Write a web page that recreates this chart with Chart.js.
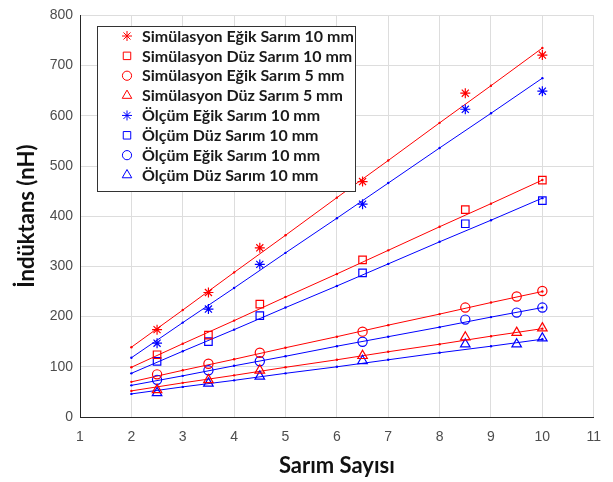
<!DOCTYPE html>
<html>
<head>
<meta charset="utf-8">
<script src="https://cdn.jsdelivr.net/npm/chart.js"></script>
<style>
body { margin: 0; background: #fff; }
</style>
</head>
<body>
<canvas id="c" width="613" height="482"></canvas>
<script>
// x positions
const lineX = [2, 3, 4, 5, 6, 7, 8, 9, 10]
const ptX10 = [2.5, 3.5, 4.5, 6.5, 8.5, 10]
const ptX5 = [2.5, 3.5, 4.5, 6.5, 8.5, 9.5, 10]

// simulation points (red)
const simEgik10 = [174, 248, 337, 469, 645, 721]
const simDuz10 = [124, 163, 225, 313, 413, 472]
const simEgik5 = [85, 106, 128, 170, 218, 240, 251]
const simDuz5 = [54, 74, 93, 122, 159, 168, 177]

// measurement points (blue)
const olcEgik10 = [147, 215, 304, 424, 613, 649]
const olcDuz10 = [111, 150, 202, 287, 385, 431]
const olcEgik5 = [74, 93, 111, 150, 194, 208, 218]
const olcDuz5 = [48, 67, 81, 112, 145, 145, 157]

// fitted lines read at x = 2..10
const lineSimEgik10 = [139, 213, 288, 362, 437, 511, 586, 660, 735]
const lineOlcEgik10 = [118, 188, 257, 327, 396, 466, 536, 605, 675]
const lineSimDuz10 = [99, 146, 192, 239, 285, 332, 379, 425, 472]
const lineOlcDuz10 = [87, 131, 174, 218, 261, 305, 349, 392, 436]
const lineSimEgik5 = [70, 93, 115, 138, 160, 183, 205, 228, 250]
const lineOlcEgik5 = [63, 82, 102, 121, 141, 160, 179, 199, 218]
const lineSimDuz5 = [52, 68, 83, 99, 114, 130, 145, 161, 176]
const lineOlcDuz5 = [46, 60, 73, 87, 100, 114, 128, 141, 155]

const legendLabels = [
    'Simülasyon Eğik Sarım 10 mm',
    'Simülasyon Düz Sarım 10 mm',
    'Simülasyon Eğik Sarım 5 mm',
    'Simülasyon Düz Sarım 5 mm',
    'Ölçüm Eğik Sarım 10 mm',
    'Ölçüm Düz Sarım 10 mm',
    'Ölçüm Eğik Sarım 10 mm',
    'Ölçüm Düz Sarım 10 mm'
]

const RED = '#ff0000'
const BLUE = '#0000ff'

function pairs(xs, ys) {
    return xs.map((x, i) => ({ x: x, y: ys[i] }))
}

function lineSet(ys, color) {
    return {
        data: pairs(lineX, ys),
        showLine: true,
        borderColor: color,
        backgroundColor: color,
        borderWidth: 1,
        pointRadius: 1.2,
        pointBorderWidth: 0,
        order: 2
    }
}

const markerSizes = { star: 5, rect: 5.3, circle: 4.6, triangle: 5.5 }

function markSet(xs, ys, color, style) {
    return {
        data: pairs(xs, ys),
        showLine: false,
        pointStyle: style,
        pointRadius: markerSizes[style],
        borderColor: color,
        backgroundColor: 'rgba(0,0,0,0)',
        pointBorderWidth: 1.2,
        order: 1
    }
}

const legendStyles = ['star', 'rect', 'circle', 'triangle', 'star', 'rect', 'circle', 'triangle']
const legendColors = [RED, RED, RED, RED, BLUE, BLUE, BLUE, BLUE]

const boxLegend = {
    id: 'boxLegend',
    afterDraw(chart) {
        const ctx = chart.ctx
        ctx.save()
        ctx.fillStyle = '#fff'
        ctx.strokeStyle = '#333'
        ctx.lineWidth = 1
        ctx.fillRect(97.5, 26.5, 258, 165)
        ctx.strokeRect(97.5, 26.5, 258, 165)
        legendLabels.forEach(function (t, i) {
            const y = 36 + i * 19.86
            const st = legendStyles[i]
            ctx.strokeStyle = legendColors[i]
            ctx.fillStyle = 'rgba(0,0,0,0)'
            Chart.helpers.drawPoint(ctx, { pointStyle: st, radius: markerSizes[st], borderWidth: 1.2, rotation: 0 }, 127, y)
            ctx.fillStyle = '#1a1a1a'
            ctx.font = 'bold 16px Lato'
            ctx.textBaseline = 'middle'
            ctx.textAlign = 'left'
            ctx.fillText(t, 142, y + 0.5)
        })
        ctx.restore()
    }
}

new Chart(document.getElementById('c'), {
    type: 'scatter',
    data: {
        datasets: [
            lineSet(lineSimEgik10, RED),
            lineSet(lineOlcEgik10, BLUE),
            lineSet(lineSimDuz10, RED),
            lineSet(lineOlcDuz10, BLUE),
            lineSet(lineSimEgik5, RED),
            lineSet(lineOlcEgik5, BLUE),
            lineSet(lineSimDuz5, RED),
            lineSet(lineOlcDuz5, BLUE),
            markSet(ptX10, simEgik10, RED, 'star'),
            markSet(ptX10, simDuz10, RED, 'rect'),
            markSet(ptX5, simEgik5, RED, 'circle'),
            markSet(ptX5, simDuz5, RED, 'triangle'),
            markSet(ptX10, olcEgik10, BLUE, 'star'),
            markSet(ptX10, olcDuz10, BLUE, 'rect'),
            markSet(ptX5, olcEgik5, BLUE, 'circle'),
            markSet(ptX5, olcDuz5, BLUE, 'triangle')
        ]
    },
    options: {
        responsive: false,
        animation: false,
        events: [],
        layout: { padding: { top: 13, right: 15 } },
        plugins: { legend: { display: false }, tooltip: { enabled: false } },
        scales: {
            x: {
                type: 'linear',
                min: 1,
                max: 11,
                afterFit: function (s) { s.height = 65 },
                ticks: { stepSize: 1, padding: 12, color: '#4d4d4d', font: { family: 'Liberation Sans', size: 14 } },
                grid: { color: '#dddddd', drawTicks: false },
                border: { color: '#262626' },
                title: { display: true, text: 'Sarım Sayısı', color: '#111', padding: 3, font: { family: 'Lato', size: 22, weight: 'bold' } }
            },
            y: {
                min: 0,
                max: 800,
                afterFit: function (s) { s.width = 80 },
                ticks: { stepSize: 100, padding: 7, color: '#4d4d4d', font: { family: 'Liberation Sans', size: 14 } },
                grid: { color: '#dddddd', drawTicks: false },
                border: { color: '#262626' },
                title: { display: true, text: 'İndüktans (nH)', color: '#111', padding: 14, font: { family: 'Lato', size: 22, weight: 'bold' } }
            }
        }
    },
    plugins: [boxLegend]
})
</script>
</body>
</html>
